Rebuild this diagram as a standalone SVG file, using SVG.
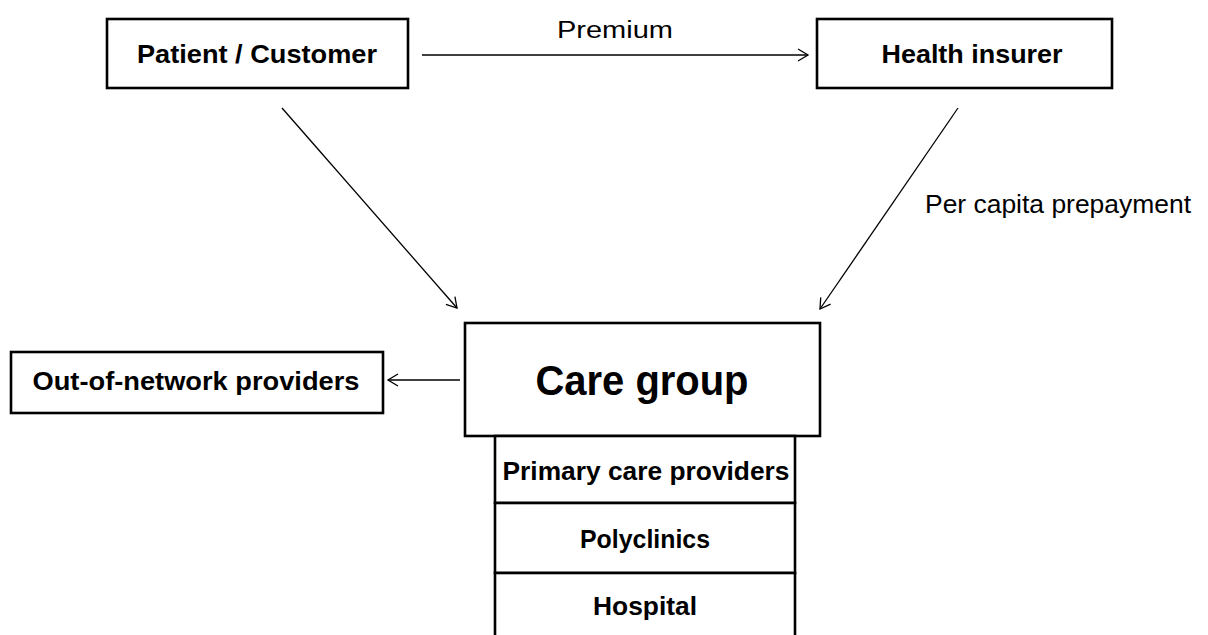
<svg xmlns="http://www.w3.org/2000/svg" width="1208" height="635" viewBox="0 0 1208 635">
  <style>
    .box { fill: #ffffff; stroke: #000000; stroke-width: 2.6; }
    .lbl { font-family: "Liberation Sans", Arial, sans-serif; font-weight: bold; fill: #000000; text-anchor: middle; }
    .note { font-family: "Liberation Sans", Arial, sans-serif; fill: #000000; }
    .conn { stroke: #000000; stroke-width: 1.3; fill: none; marker-end: url(#open); }
  </style>
  <defs>
    <marker id="open" markerWidth="16" markerHeight="16" refX="13" refY="8" orient="auto" markerUnits="userSpaceOnUse">
      <path d="M3,2 L13,8 L3,14" fill="none" stroke="#000000" stroke-width="1.3"/>
    </marker>
  </defs>
  <rect width="1208" height="635" fill="#ffffff"/>

  <g id="connectors">
    <line class="conn" x1="422" y1="55" x2="808" y2="55"/>
    <line class="conn" x1="282" y1="108" x2="457" y2="308"/>
    <line class="conn" x1="958" y1="108" x2="820" y2="309"/>
    <line class="conn" x1="460" y1="380" x2="388" y2="380"/>
    <text class="note" x="615" y="38" font-size="23" text-anchor="middle" textLength="116" lengthAdjust="spacingAndGlyphs">Premium</text>
    <text class="note" x="925" y="213" font-size="25" textLength="266" lengthAdjust="spacingAndGlyphs">Per capita prepayment</text>
  </g>

  <g id="patient">
    <rect class="box" x="107" y="19" width="301" height="69"/>
    <text class="lbl" x="257" y="63" font-size="26" textLength="240" lengthAdjust="spacingAndGlyphs">Patient / Customer</text>
  </g>

  <g id="insurer">
    <rect class="box" x="817" y="19" width="295" height="69"/>
    <text class="lbl" x="972" y="63" font-size="26" textLength="181" lengthAdjust="spacingAndGlyphs">Health insurer</text>
  </g>

  <g id="out-of-network">
    <rect class="box" x="11" y="352" width="372" height="61"/>
    <text class="lbl" x="196" y="390" font-size="26" textLength="327" lengthAdjust="spacingAndGlyphs">Out-of-network providers</text>
  </g>

  <g id="care-group">
    <rect class="box" x="465" y="323" width="355" height="113"/>
    <text class="lbl" x="642" y="395" font-size="42" textLength="213" lengthAdjust="spacingAndGlyphs">Care group</text>
  </g>

  <g id="primary-care">
    <rect class="box" x="495" y="436" width="300" height="67"/>
    <text class="lbl" x="646" y="480" font-size="26" textLength="287" lengthAdjust="spacingAndGlyphs">Primary care providers</text>
  </g>

  <g id="polyclinics">
    <rect class="box" x="495" y="503" width="300" height="70"/>
    <text class="lbl" x="645" y="548" font-size="26" textLength="130" lengthAdjust="spacingAndGlyphs">Polyclinics</text>
  </g>

  <g id="hospital">
    <rect class="box" x="495" y="573" width="300" height="70"/>
    <text class="lbl" x="645" y="615" font-size="26" textLength="104" lengthAdjust="spacingAndGlyphs">Hospital</text>
  </g>
</svg>
